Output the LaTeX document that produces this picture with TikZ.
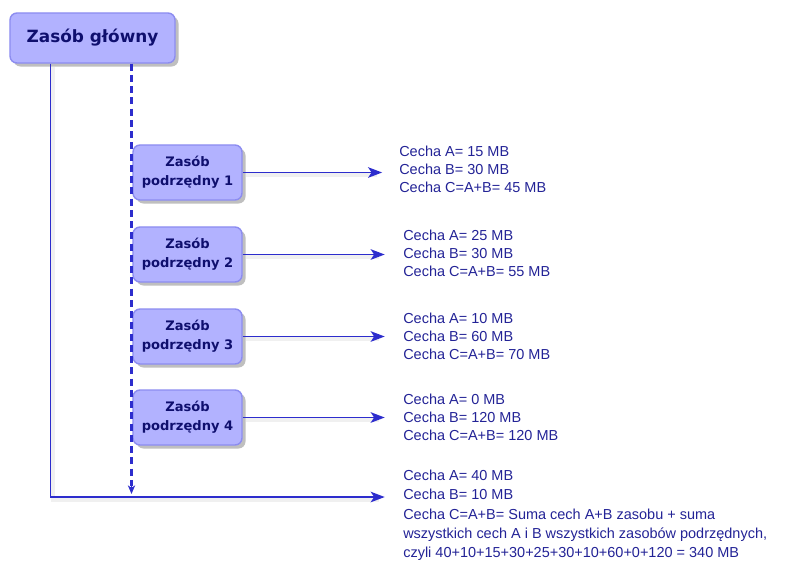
\documentclass[tikz,border=0pt]{standalone}
\usepackage{fontspec}
\setmainfont{Liberation Sans}
\newfontfamily\boxfont{DejaVu Sans}
\usepackage{tikz}
\usetikzlibrary{positioning,arrows,arrows.meta,calc,shadows}
\definecolor{boxfill}{RGB}{178,178,255}
\definecolor{boxline}{RGB}{140,140,240}
\definecolor{wire}{RGB}{45,45,205}
\definecolor{navy}{RGB}{15,15,110}
\definecolor{infotext}{RGB}{35,35,150}
\tikzset{
    x=0.025cm,
    y=-0.025cm,
    mainbox/.style = {
        draw=boxline,
        fill=boxfill,
        shape=rectangle,
        rounded corners=5pt,
        minimum width=4.125cm,
        minimum height=1.25cm,
        line width=1pt,
        text=navy,
        font=\boxfont\bfseries\fontsize{12}{14}\selectfont,
        drop shadow={shadow xshift=2.5pt, shadow yshift=-2.5pt, opacity=0.25, fill=black}
    },
    subbox/.style = {
        mainbox,
        minimum width=2.725cm,
        minimum height=1.375cm,
        align=center,
        font=\boxfont\bfseries\fontsize{9.3}{13.5}\selectfont
    },
    info/.style = {
        shape=rectangle,
        inner sep=0pt,
        anchor=west,
        align=left,
        text=infotext,
        font=\fontsize{10.3}{12.9}\selectfont
    },
    wireline/.style = {
        draw=wire,
        line width=1.3pt
    },
    wireshadow/.style = {
        draw=black,
        opacity=0.06,
        line width=3pt,
        transform canvas={xshift=2pt, yshift=-2pt}
    },
    >={Stealth[length=10pt,width=7.5pt,inset=2.5pt]},
}
\begin{document}
\begin{tikzpicture}
    \useasboundingbox (0,0) rectangle (794,560);

    \node[mainbox] (main) at (92.5,38) {Zasób główny};
    \node[subbox] (sub1) at (187.5,172.5) {Zasób\\podrzędny 1};
    \node[subbox] (sub2) at (187.5,254.5) {Zasób\\podrzędny 2};
    \node[subbox] (sub3) at (187.5,336.5) {Zasób\\podrzędny 3};
    \node[subbox] (sub4) at (187.5,417.5) {Zasób\\podrzędny 4};

    \node[info] (info1) at (399,169) {Cecha A= 15 MB\\Cecha B= 30 MB\\Cecha C=A+B= 45 MB};
    \node[info] (info2) at (403,253) {Cecha A= 25 MB\\Cecha B= 30 MB\\Cecha C=A+B= 55 MB};
    \node[info] (info3) at (403,336) {Cecha A= 10 MB\\Cecha B= 60 MB\\Cecha C=A+B= 70 MB};
    \node[info] (info4) at (403,417) {Cecha A= 0 MB\\Cecha B= 120 MB\\Cecha C=A+B= 120 MB};
    \node[info, anchor=north west, font=\fontsize{10.3}{13.6}\selectfont] (info5) at (403,470)
        {Cecha A= 40 MB\\Cecha B= 10 MB\\Cecha C=A+B= Suma cech A+B zasobu + suma\\wszystkich cech A i B wszystkich zasobów podrzędnych,\\czyli 40+10+15+30+25+30+10+60+0+120 = 340 MB};

    \coordinate (corner) at (50.5,497);
    \coordinate (dashend) at (131.5,494);
    \coordinate (dashtip) at (131.5,486);

    % soft shadows under the lines
    \path[wireshadow, shorten >=18pt] (sub1) -- (sub1 -| info1.west);
    \path[wireshadow, shorten >=19pt] (sub2) -- (sub2 -| info2.west);
    \path[wireshadow, shorten >=19pt] (sub3) -- (sub3 -| info3.west);
    \path[wireshadow, shorten >=19pt] (sub4) -- (sub4 -| info4.west);
    \path[wireshadow, shorten >=19pt] (main.south -| corner) -- (corner) -- (corner -| info5.west);

    % arrows to the values
    \path[wireline, ->, shorten >=12pt] (sub1) -- (sub1 -| info1.west);
    \path[wireline, ->, shorten >=13pt] (sub2) -- (sub2 -| info2.west);
    \path[wireline, ->, shorten >=13pt] (sub3) -- (sub3 -| info3.west);
    \path[wireline, ->, shorten >=13pt] (sub4) -- (sub4 -| info4.west);

    \path[wireline, ->, shorten >=13pt] (main.south -| corner) -- (corner) -- (corner -| info5.west);
    \draw[wire, line width=1.6pt, dash pattern=on 5pt off 3pt] (main.south -| dashend) -- (dashtip);
    \draw[wire, line width=1.4pt, -{Stealth[length=6pt,width=5pt,inset=1.5pt]}] (dashtip) -- (dashend);
\end{tikzpicture}
\end{document}
